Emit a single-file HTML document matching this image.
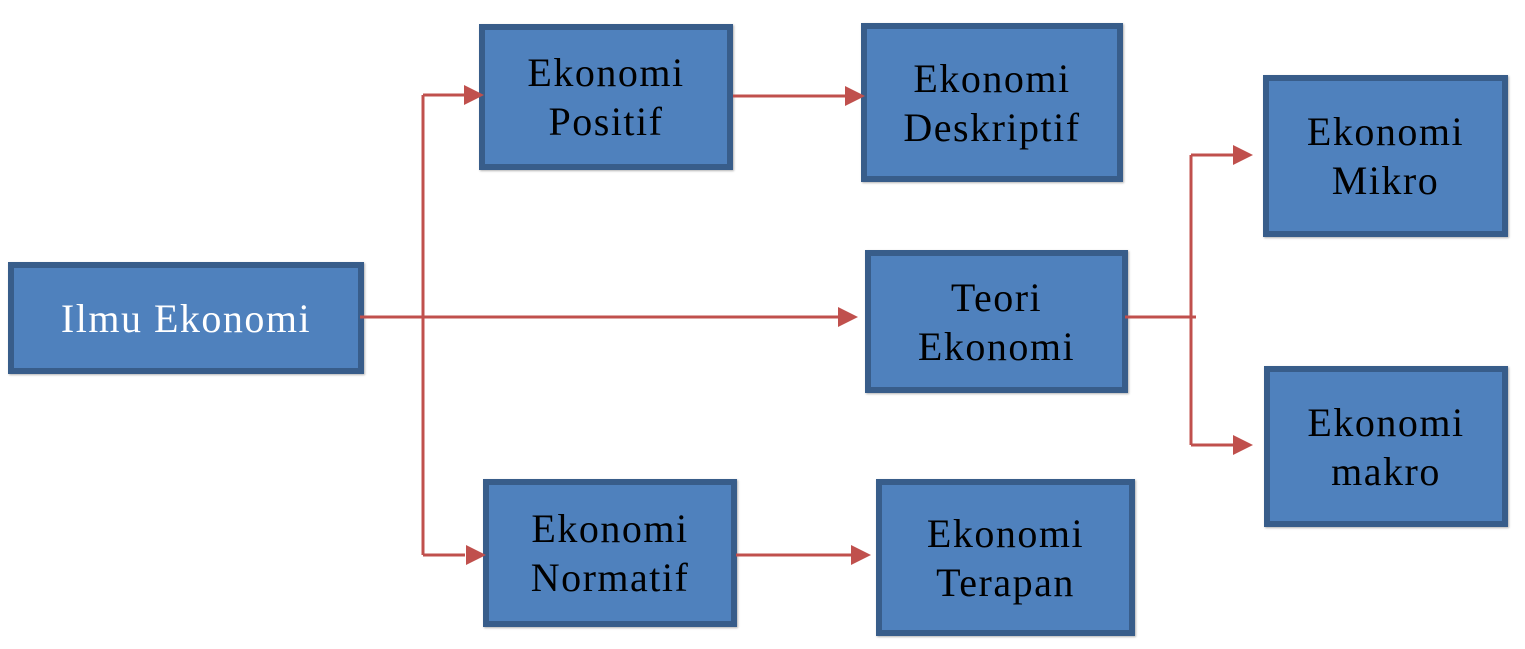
<!DOCTYPE html>
<html><head><meta charset="utf-8"><style>
body{margin:0;width:1525px;height:649px;background:#fff;position:relative;overflow:hidden;font-family:"Liberation Serif",serif;}
.b{position:absolute;box-sizing:border-box;background:#4f81bd;border:6px solid #385d8a;display:flex;align-items:center;justify-content:center;text-align:center;font-size:40px;letter-spacing:1.5px;line-height:49px;color:#000;box-shadow:1px 1px 2px rgba(0,0,0,.3);}
svg{position:absolute;left:0;top:0;}
</style></head><body>
<div class="b" style="left:8px;top:262px;width:356px;height:112px;color:#fff">Ilmu Ekonomi</div>
<div class="b" style="left:479px;top:24px;width:254px;height:146px">Ekonomi<br>Positif</div>
<div class="b" style="left:861px;top:23px;width:262px;height:159px">Ekonomi<br>Deskriptif</div>
<div class="b" style="left:865px;top:250px;width:263px;height:143px">Teori<br>Ekonomi</div>
<div class="b" style="left:1263px;top:75px;width:245px;height:162px">Ekonomi<br>Mikro</div>
<div class="b" style="left:1264px;top:366px;width:244px;height:161px">Ekonomi<br>makro</div>
<div class="b" style="left:483px;top:479px;width:254px;height:148px">Ekonomi<br>Normatif</div>
<div class="b" style="left:876px;top:479px;width:259px;height:157px">Ekonomi<br>Terapan</div>
<svg width="1525" height="649">
<g stroke="#c0504d" stroke-width="3" fill="none">
<path d="M360 317H840"/><path d="M423 95V555"/><path d="M423 95H465"/><path d="M423 555H465"/>
<path d="M733 96H845"/><path d="M736 555H852"/>
<path d="M1125 317H1196"/><path d="M1191 155V445"/><path d="M1191 155H1235"/><path d="M1191 445H1235"/>
</g>
<g fill="#c0504d">
<path d="M858 317l-20-10v20z"/><path d="M484 95l-20-10v20z"/><path d="M486 555l-20-10v20z"/>
<path d="M865 96l-20-10v20z"/><path d="M871 555l-20-10v20z"/>
<path d="M1253 155l-20-10v20z"/><path d="M1253 445l-20-10v20z"/>
</g>
</svg>
</body></html>
